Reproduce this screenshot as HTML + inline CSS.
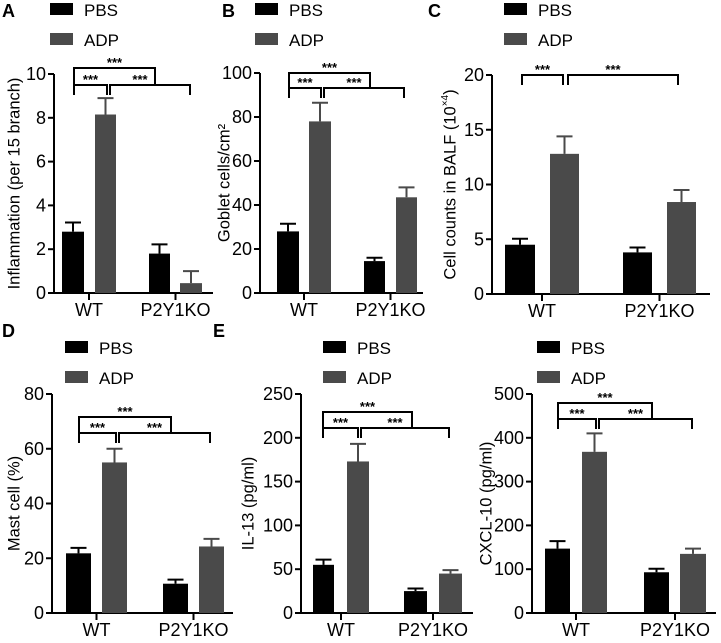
<!DOCTYPE html>
<html><head><meta charset="utf-8"><style>
body{margin:0;background:#fff;}
svg{display:block;font-family:"Liberation Sans",Arial,sans-serif;}
</style></head><body>
<svg id="fig" width="721" height="643" viewBox="0 0 721 643" xmlns="http://www.w3.org/2000/svg"></svg>
<script>
const groups = ["WT", "P2Y1KO"];
const seriesNames = ["PBS", "ADP"];
const aPBS = [2.8, 1.8], aPBSerr = [0.42, 0.42], aADP = [8.15, 0.45], aADPerr = [0.75, 0.55];
const aTicks = [0, 2, 4, 6, 8, 10];
const bPBS = [28, 14.5], bPBSerr = [3.5, 1.5], bADP = [78, 43.5], bADPerr = [8.5, 4.5];
const bTicks = [0, 20, 40, 60, 80, 100];
const cPBS = [4.5, 3.8], cPBSerr = [0.55, 0.45], cADP = [12.8, 8.4], cADPerr = [1.6, 1.1];
const cTicks = [0, 5, 10, 15, 20];
const dPBS = [21.8, 10.7], dPBSerr = [2, 1.5], dADP = [55, 24.3], dADPerr = [5, 2.8];
const dTicks = [0, 20, 40, 60, 80];
const ePBS = [55, 25], ePBSerr = [6, 3], eADP = [173, 45], eADPerr = [20, 4];
const eTicks = [0, 50, 100, 150, 200, 250];
const fPBS = [147, 93], fPBSerr = [17, 8], fADP = [368, 135], fADPerr = [42, 12];
const fTicks = [0, 100, 200, 300, 400, 500];

const NS = "http://www.w3.org/2000/svg";
const svg = document.getElementById("fig");
function mk(tag, attrs, parent, text) {
  const e = document.createElementNS(NS, tag);
  for (const k in attrs) e.setAttribute(k, attrs[k]);
  if (text !== undefined) e.textContent = text;
  (parent || svg).appendChild(e);
  return e;
}
const COL = ["#000000", "#4a4a4a"];

const panels = [
  {id:"a", letter:"A", lx:2, ly:17, ax:54, top:74, zero:293, end:213, ticks:aTicks, pbs:aPBS, pe:aPBSerr, adp:aADP, ae:aADPerr,
   bars:[[62,84,95,116],[149,170,180,202]], legX:50, legY:3, title:"Inflammation (per 15 branch)", tx:15,
   br:{top:68, low:85, drop:95, a:74, b:155, c:107, d:110, e:190, three:true}},
  {id:"b", letter:"B", lx:222, ly:17, ax:260, top:73, zero:293, end:423, ticks:bTicks, pbs:bPBS, pe:bPBSerr, adp:bADP, ae:bADPerr,
   bars:[[277,299,309,331],[364,385,396,417]], legX:255, legY:3, title:"Goblet cells/cm²", tx:225,
   br:{top:73, low:88, drop:98, a:289, b:370, c:321, d:324, e:404, three:true}},
  {id:"c", letter:"C", lx:428, ly:17, ax:492, top:75, zero:294, end:710, ticks:cTicks, pbs:cPBS, pe:cPBSerr, adp:cADP, ae:cADPerr,
   bars:[[505,535,550,579],[623,652,667,696]], legX:504, legY:3, title:"C", tx:451,
   br:{top:null, low:75, drop:85, a:522, c:563, d:568, e:678, three:false}},
  {id:"d", letter:"D", lx:2, ly:337, ax:52, top:394, zero:613, end:233, ticks:dTicks, pbs:dPBS, pe:dPBSerr, adp:dADP, ae:dADPerr,
   bars:[[66,91,102,127],[163,188,199,224]], legX:65, legY:341, title:"Mast cell (%)", tx:15,
   br:{top:417, low:433, drop:443, a:79, b:171, c:116, d:119, e:210, three:true}},
  {id:"e", letter:"E", lx:213, ly:337, ax:301, top:394, zero:613, end:473, ticks:eTicks, pbs:ePBS, pe:ePBSerr, adp:eADP, ae:eADPerr,
   bars:[[313,334,347,369],[404,427,439,462]], legX:323, legY:341, title:"IL-13 (pg/ml)", tx:249,
   br:{top:412, low:428, drop:438, a:323, b:412, c:358, d:361, e:449, three:true}},
  {id:"f", letter:"", lx:0, ly:0, ax:532, top:394, zero:613, end:716, ticks:fTicks, pbs:fPBS, pe:fPBSerr, adp:fADP, ae:fADPerr,
   bars:[[545,570,582,607],[644,669,680,706]], legX:537, legY:341, title:"CXCL-10 (pg/ml)", tx:487,
   br:{top:403, low:419, drop:429, a:558, b:652, c:596, d:599, e:692, three:true}}
];

panels.forEach(p => {
  const g = mk("g", {});
  
  
  const maxT = p.ticks[p.ticks.length - 1];
  const y = v => p.zero - (v / maxT) * (p.zero - p.top);
  if (p.letter) {
    const L = mk("text", {x:p.lx, y:p.ly, "font-size":18, "font-weight":"bold"}, g, p.letter);
    
    
  }
  seriesNames.forEach((s, i) => {
    const le = mk("g", {}, g);
    
    
    const yy = p.legY + i * 30;
    mk("rect", {x:p.legX, y:yy, width:23, height:12, fill:COL[i]}, le);
    mk("text", {x:p.legX + 34, y:yy + 13, "font-size":17}, le, s);
  });
  const ya = mk("line", {x1:p.ax, y1:p.top, x2:p.ax, y2:p.zero + 1, stroke:"#000", "stroke-width":2}, g);
  
  
  const xa = mk("line", {x1:p.ax - 1, y1:p.zero, x2:p.end, y2:p.zero, stroke:"#000", "stroke-width":2}, g);
  
  
  p.ticks.forEach(t => {
    mk("line", {x1:p.ax - 6, y1:y(t), x2:p.ax, y2:y(t), stroke:"#000", "stroke-width":2}, g);
    const tl = mk("text", {x:p.ax - 8, y:y(t) + 6, "font-size":18, "text-anchor":"end"}, g, String(t));
    
    
  });
  const cy = (p.top + p.zero) / 2;
  const tt = mk("text", {x:p.tx, y:cy, "font-size":16.5, "text-anchor":"middle", transform:`rotate(-90 ${p.tx} ${cy})`, "dominant-baseline":"middle"}, g);
  
  
  if (p.id === "c") {
    tt.textContent = "Cell counts in BALF (10";
    mk("tspan", {"font-size":10, dy:-6}, tt, "×4");
    mk("tspan", {dy:6}, tt, ")");
  } else tt.textContent = p.title;
  groups.forEach((gname, gi) => {
    const bx = p.bars[gi];
    const vals = [[p.pbs[gi], p.pe[gi]], [p.adp[gi], p.ae[gi]]];
    vals.forEach((ve, si) => {
      const x0 = bx[si * 2], x1 = bx[si * 2 + 1];
      const r = mk("rect", {x:x0, y:y(ve[0]), width:x1 - x0, height:p.zero - y(ve[0]), fill:COL[si]}, g);
      
      
      const cx = (x0 + x1) / 2, ty = y(ve[0] + ve[1]);
      const eb = mk("path", {d:`M${cx} ${y(ve[0])}V${ty}M${cx - 8} ${ty}H${cx + 8}`, stroke:COL[si], "stroke-width":2, fill:"none"}, g);
      
      
    });
    const gx = (bx[0] + bx[3]) / 2;
    mk("line", {x1:gx, y1:p.zero, x2:gx, y2:p.zero + 7, stroke:"#000", "stroke-width":2}, g);
    const xl = mk("text", {x:gx, y:p.zero + 23, "font-size":18, "text-anchor":"middle"}, g, gname);
    
    
  });
  const b = p.br;
  const bs = mk("g", {stroke:"#000", "stroke-width":2, fill:"none"}, g);
  
  
  mk("path", {d:`M${b.a} ${b.drop}V${b.low}H${b.c}V${b.drop}`}, bs);
  mk("path", {d:`M${b.d} ${b.drop}V${b.low}H${b.e}V${b.drop}`}, bs);
  if (b.three) mk("path", {d:`M${b.a} ${b.low}V${b.top}H${b.b}V${b.low}`}, bs);
  const star = (x, yy) => {
    const s = mk("text", {x:x, y:yy, "font-size":13, "font-weight":"bold", "text-anchor":"middle"}, g, "***");
    
    
  };
  star((b.a + b.c) / 2, b.low - 1);
  star((b.d + b.e) / 2 - 10, b.low - 1);
  if (b.three) star((b.a + b.b) / 2, b.top - 1);
});
</script>
</body></html>
